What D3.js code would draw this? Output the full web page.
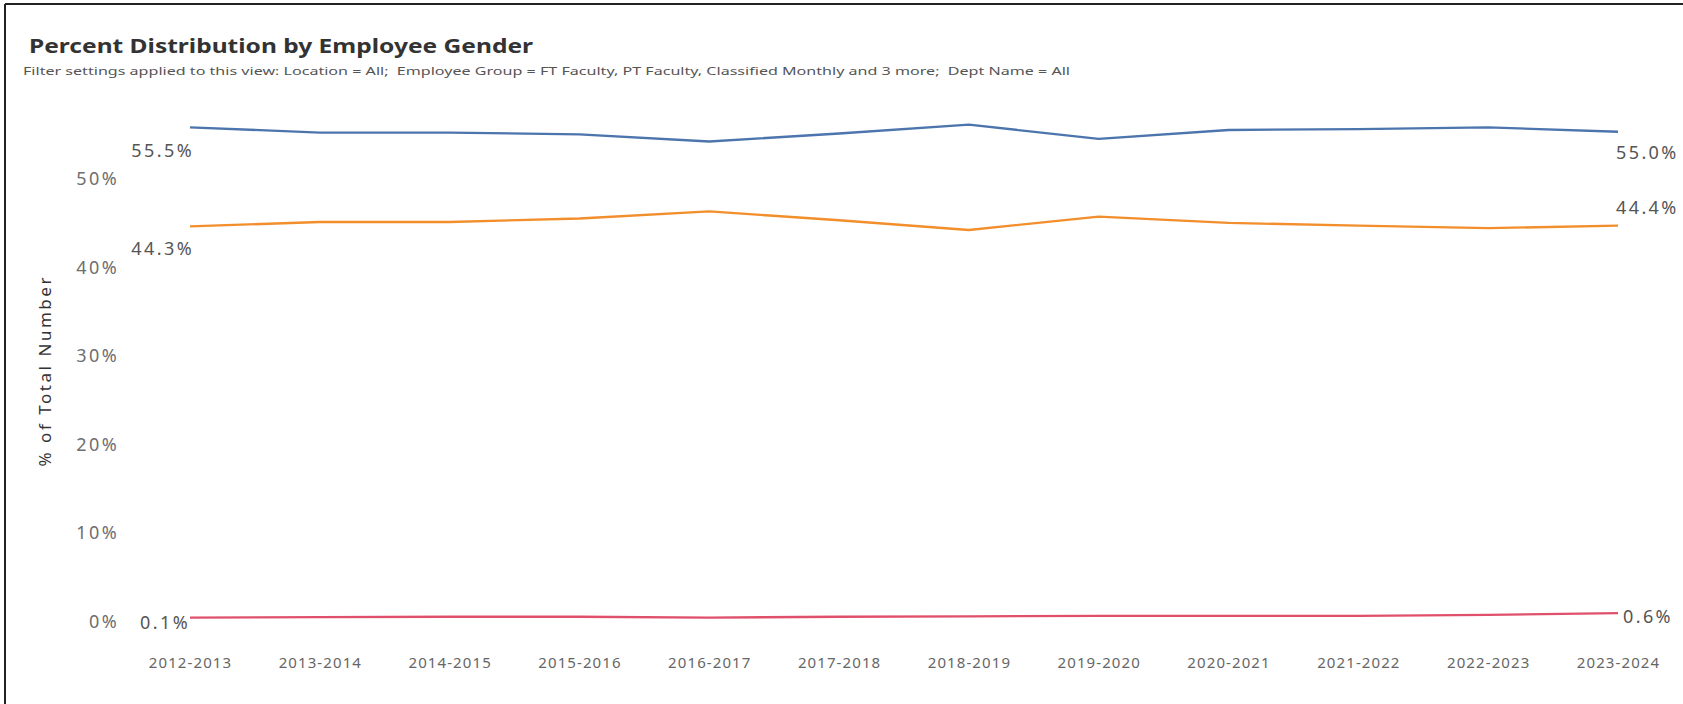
<!DOCTYPE html>
<html>
<head>
<meta charset="utf-8">
<script src="https://cdn.jsdelivr.net/npm/d3@7"></script>
<style>
  html, body { margin: 0; padding: 0; background: #fff; }
  svg { display: block; }
  text { white-space: pre; }
</style>
</head>
<body>
<svg id="chart" width="1683" height="704"></svg>
<script>
const categories = ["2012-2013","2013-2014","2014-2015","2015-2016","2016-2017","2017-2018","2018-2019","2019-2020","2020-2021","2021-2022","2022-2023","2023-2024"];
const maleValues   = [55.5, 54.9, 54.9, 54.7, 53.9, 54.8, 55.8, 54.2, 55.2, 55.3, 55.5, 55.0];
const femaleValues = [44.3, 44.8, 44.8, 45.2, 46.0, 45.0, 43.9, 45.4, 44.7, 44.4, 44.1, 44.4];
const otherValues  = [0.1, 0.15, 0.2, 0.2, 0.1, 0.2, 0.25, 0.3, 0.3, 0.3, 0.4, 0.6];
const yTicks = [0, 10, 20, 30, 40, 50];

const title = "Percent Distribution by Employee Gender";
const subtitle = "Filter settings applied to this view: Location = All;  Employee Group = FT Faculty, PT Faculty, Classified Monthly and 3 more;  Dept Name = All";
const yTitle = "% of Total Number";

const series = [
  {name: "Male", values: maleValues, color: "#4c74ad", startDy: 23, endDy: 21, startDx: 4, endDx: -2},
  {name: "Female", values: femaleValues, color: "#f28e2b", startDy: 22, endDy: -18, startDx: 4, endDx: -2},
  {name: "Other", values: otherValues, color: "#e0506a", startDy: 5, endDy: 4, startDx: 0, endDx: 5}
];

const svg = d3.select("#chart");
const font = "'Noto Sans', 'Open Sans', sans-serif";

// frame
svg.append("line").attr("x1", 5).attr("x2", 5).attr("y1", 4).attr("y2", 704).attr("stroke", "#222").attr("stroke-width", 2);
svg.append("line").attr("x1", 5).attr("x2", 1683).attr("y1", 4).attr("y2", 4).attr("stroke", "#222").attr("stroke-width", 2);

// titles
svg.append("text").attr("x", 29).attr("y", 53).text(title)
  .attr("font-family", font).attr("font-weight", "bold").attr("font-size", 20).attr("fill", "#333")
  .attr("textLength", 504).attr("lengthAdjust", "spacingAndGlyphs");
svg.append("text").attr("x", 23).attr("y", 75).text(subtitle)
  .attr("font-family", font).attr("font-size", 11.5).attr("fill", "#555")
  .attr("textLength", 1047).attr("lengthAdjust", "spacingAndGlyphs");

const x = d3.scalePoint().domain(categories).range([190, 1618]);
const y = d3.scaleLinear().domain([0, 50]).range([618.5, 176]);

// y axis
const yAxis = svg.append("g").attr("transform", "translate(121,3)")
  .call(d3.axisLeft(y).tickValues(yTicks).tickFormat(d => d + "%").tickSize(0).tickPadding(2));
yAxis.select(".domain").remove();
yAxis.selectAll("text").attr("font-family", font).attr("font-size", 18).attr("fill", "#6e6e6e")
  .attr("letter-spacing", 2.4);

// y title
svg.append("text").attr("transform", "translate(51,372) rotate(-90)")
  .attr("text-anchor", "middle").text(yTitle)
  .attr("font-family", font).attr("font-size", 17).attr("fill", "#333")
  .attr("textLength", 189).attr("lengthAdjust", "spacing");

// x axis
const xAxis = svg.append("g").attr("transform", "translate(0,657)")
  .call(d3.axisBottom(x).tickSize(0).tickPadding(0));
xAxis.select(".domain").remove();
xAxis.selectAll("text").attr("font-family", font).attr("font-size", 15).attr("fill", "#666")
  .attr("dy", "0.71em").attr("letter-spacing", 1.1);

// lines
const line = d3.line().x((d, i) => x(categories[i])).y(d => y(d));
series.forEach(s => {
  svg.append("path").datum(s.values).attr("d", line)
    .attr("fill", "none").attr("stroke", s.color).attr("stroke-width", 2.3)
    .attr("stroke-linejoin", "round");
});

// end labels
const fmt = d3.format(".1f");
series.forEach(s => {
  const first = s.values[0], last = s.values[s.values.length - 1];
  svg.append("text")
    .attr("x", x(categories[0]) + s.startDx).attr("y", y(first) + s.startDy)
    .attr("dy", "0.35em").attr("text-anchor", "end")
    .text(fmt(first) + "%")
    .attr("font-family", font).attr("font-size", 18).attr("fill", "#555").attr("letter-spacing", 2.4);
  svg.append("text")
    .attr("x", x(categories[categories.length - 1]) + s.endDx).attr("y", y(last) + s.endDy)
    .attr("dy", "0.35em").attr("text-anchor", "start")
    .text(fmt(last) + "%")
    .attr("font-family", font).attr("font-size", 18).attr("fill", "#555").attr("letter-spacing", 2.4);
});
</script>
</body>
</html>
